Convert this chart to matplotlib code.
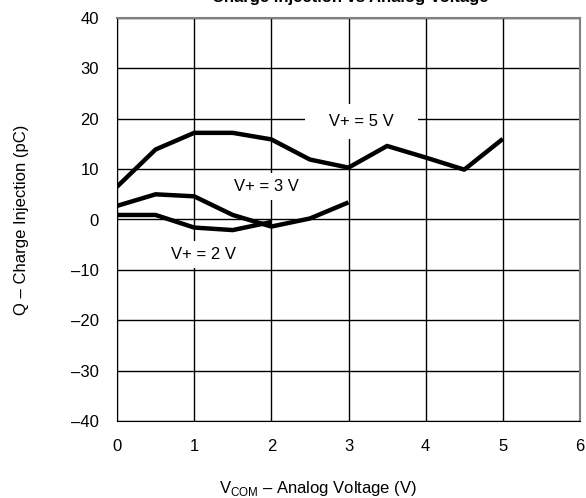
import matplotlib.pyplot as plt

plt.rcParams['font.family'] = ['Liberation Sans', 'DejaVu Sans']
plt.rcParams['mathtext.fontset'] = 'custom'
plt.rcParams['mathtext.rm'] = 'Liberation Sans'

# V+ = 5 V
x_5v = [0, 0.5, 1.0, 1.5, 2.0, 2.5, 3.0, 3.5, 4.0, 4.5, 5.0]
q_5v = [6.5, 13.9, 17.2, 17.2, 15.9, 11.9, 10.3, 14.6, 12.3, 9.9, 16.0]

# V+ = 3 V
x_3v = [0, 0.5, 1.0, 1.5, 2.0, 2.5, 3.0]
q_3v = [2.7, 5.0, 4.6, 0.9, -1.4, 0.2, 3.4]

# V+ = 2 V
x_2v = [0, 0.5, 1.0, 1.5, 2.0]
q_2v = [0.9, 0.9, -1.6, -2.1, -0.5]

xticks = [0, 1, 2, 3, 4, 5, 6]
yticks = [-40, -30, -20, -10, 0, 10, 20, 30, 40]

fig = plt.figure(figsize=(5.86, 4.98), dpi=100)
ax = fig.add_axes([117 / 586, 77 / 498, 463 / 586, 403 / 498])

for x, q in [(x_5v, q_5v), (x_3v, q_3v), (x_2v, q_2v)]:
    ax.plot(x, q, color='black', lw=3.2, solid_capstyle='butt', zorder=4)

ax.set_xlim(0, 6)
ax.set_ylim(-40, 40)
ax.set_xticks(xticks)
ax.set_yticks(yticks)
ax.set_xticklabels([str(t) for t in xticks])
ax.set_yticklabels([str(t).replace('-', '\u2013') for t in yticks])
ax.tick_params(length=0, pad=13, labelsize=12)
ax.grid(True, color='black', lw=1)
ax.set_axisbelow(True)
for side in ['left', 'bottom']:
    ax.spines[side].set_color('black')
for side in ['top', 'right']:
    ax.spines[side].set_color('#808080')
    ax.spines[side].set_linewidth(1.5)

# curve labels, white boxes hide the grid behind them
box = dict(boxstyle='square,pad=0.35', fc='white', ec='none')
ax.text(3.17, 19.4, '   V+ = 5 V   ', fontsize=12, ha='center', va='center', zorder=3,
        bbox=dict(boxstyle='square,pad=0.6', fc='white', ec='none'))
ax.text(1.94, 6.6, 'V+ = 3 V', fontsize=12, ha='center', va='center', zorder=3, bbox=box)
ax.text(1.12, -6.9, 'V+ = 2 V', fontsize=12, ha='center', va='center', zorder=3, bbox=box)

ax.set_ylabel('Q \u2013 Charge Injection (pC)', fontsize=12, labelpad=30)
fig.text(318 / 586, 5 / 498, 'V$_{\\mathrm{COM}}$ \u2013 Analog Voltage (V)',
         fontsize=12, ha='center', va='baseline')
# title sits at the very top edge, as in the source image
fig.text(350 / 586, 1 - 2 / 498, 'Charge Injection vs Analog Voltage', fontsize=12,
         fontweight='bold', ha='center', va='baseline')

fig.savefig('out.png', dpi=100)
